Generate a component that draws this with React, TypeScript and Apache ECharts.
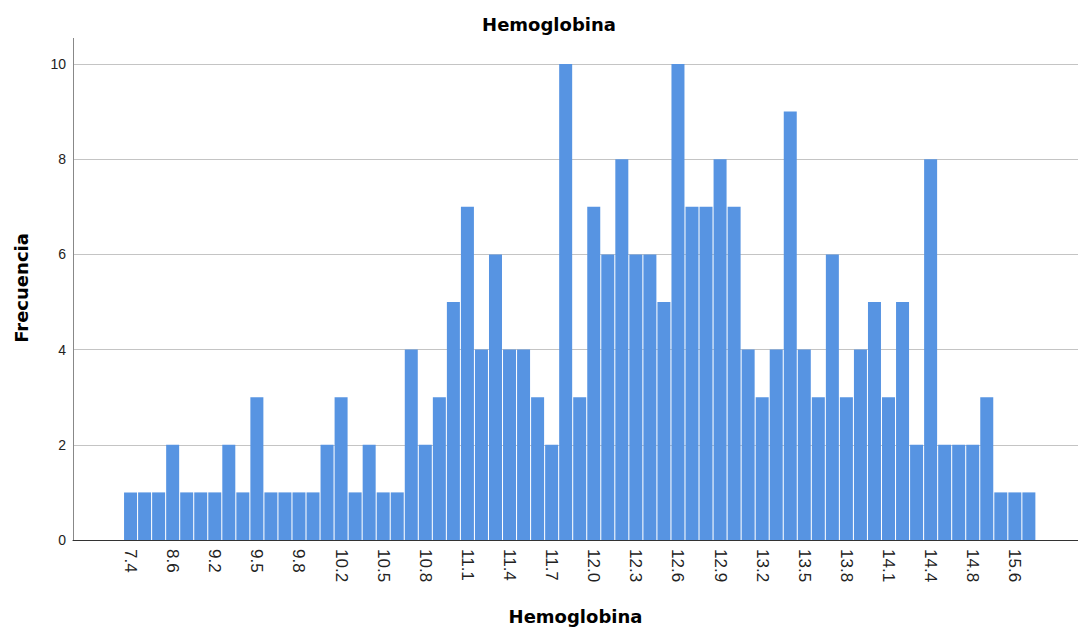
import React, { useEffect, useRef } from "react";
import * as echarts from "echarts";

const categories: string[] = [
  "7.4", "7.9", "8.3", "8.6", "8.8", "9.0", "9.2", "9.3", "9.4", "9.5",
  "9.6", "9.7", "9.8", "9.9", "10.0", "10.2", "10.3", "10.4", "10.5", "10.6",
  "10.7", "10.8", "10.9", "11.0", "11.1", "11.2", "11.3", "11.4", "11.5", "11.6",
  "11.7", "11.8", "11.9", "12.0", "12.1", "12.2", "12.3", "12.4", "12.5", "12.6",
  "12.7", "12.8", "12.9", "13.0", "13.1", "13.2", "13.3", "13.4", "13.5", "13.6",
  "13.7", "13.8", "13.9", "14.0", "14.1", "14.2", "14.3", "14.4", "14.5", "14.7",
  "14.8", "15.0", "15.3", "15.6", "15.8",
];

const counts: number[] = [
  1, 1, 1, 2, 1, 1, 1, 2, 1, 3,
  1, 1, 1, 1, 2, 3, 1, 2, 1, 1,
  4, 2, 3, 5, 7, 4, 6, 4, 4, 3,
  2, 10, 3, 7, 6, 8, 6, 6, 5, 10,
  7, 7, 8, 7, 4, 3, 4, 9, 4, 3,
  6, 3, 4, 5, 3, 5, 2, 8, 2, 2,
  2, 3, 1, 1, 1,
];

const labelStep = 3;
const yTicks: number[] = [0, 2, 4, 6, 8, 10];

const chartTitle = "Hemoglobina";
const xName = "Hemoglobina";
const yName = "Frecuencia";

export default function App() {
  const ref = useRef<HTMLDivElement>(null);

  useEffect(() => {
    if (!ref.current) return;
    const chart = echarts.init(ref.current, null, { renderer: "svg" });
    const labelIdx = categories.map((_, i) => i).filter((i) => i % labelStep === 0);
    const boldFont = "DejaVu Sans";
    chart.setOption({
      animation: false,
      backgroundColor: "#ffffff",
      title: {
        text: chartTitle,
        left: 544,
        top: 10,
        textAlign: "center",
        textStyle: { fontFamily: boldFont, fontWeight: "bold", fontSize: 18, color: "#000" },
      },
      grid: { left: 73, right: 0, top: 64, bottom: 89, containLabel: false },
      xAxis: {
        type: "value",
        min: -4.1,
        max: 67.5,
        name: xName,
        nameLocation: "middle",
        nameGap: 67,
        nameTextStyle: { fontFamily: boldFont, fontWeight: "bold", fontSize: 18, color: "#000" },
        splitLine: { show: false },
        axisLine: { show: true, onZero: false, lineStyle: { color: "#333", width: 1 } },
        axisTick: { show: false },
        axisLabel: {
          customValues: labelIdx,
          formatter: (v: number) => categories[Math.round(v)] ?? "",
          rotate: -90,
          margin: 9,
          fontSize: 17,
          fontFamily: "Liberation Sans",
          color: "#222",
        },
      },
      yAxis: {
        type: "value",
        min: yTicks[0],
        max: yTicks[yTicks.length - 1],
        interval: 2,
        axisLine: { show: true, onZero: false, lineStyle: { color: "#888", width: 1 } },
        axisTick: { show: false },
        splitLine: { show: true, lineStyle: { color: "#c4c4c4", width: 1 } },
        axisLabel: { fontSize: 14, fontFamily: "Liberation Sans", color: "#222", margin: 7 },
      },
      graphic: [
        {
          type: "line",
          shape: { x1: 73.5, y1: 38, x2: 73.5, y2: 64 },
          style: { stroke: "#888", lineWidth: 1 },
        },
        {
          type: "text",
          x: 21,
          y: 288,
          rotation: Math.PI / 2,
          style: {
            text: yName,
            fontFamily: boldFont,
            fontWeight: "bold",
            fontSize: 18,
            fill: "#000",
            align: "center",
            verticalAlign: "middle",
          },
        },
      ],
      series: [
        {
          type: "bar",
          data: counts.map((c, i) => [i, c]),
          barWidth: 13,
          itemStyle: { color: "#5794e2" },
        },
      ],
    });
    return () => chart.dispose();
  }, []);

  return (
    <div
      ref={ref}
      style={{ position: "absolute", left: 0, top: 0, width: 1078, height: 630 }}
    />
  );
}
